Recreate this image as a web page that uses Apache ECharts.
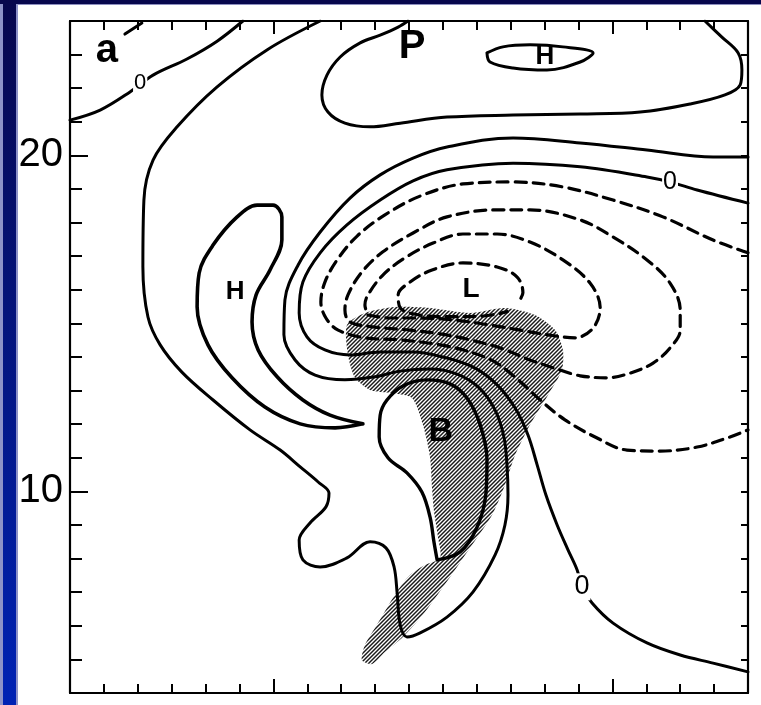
<!DOCTYPE html>
<html><head><meta charset="utf-8">
<script src="https://cdn.jsdelivr.net/npm/echarts@6/dist/echarts.min.js"></script>
<style>html,body{margin:0;padding:0;background:#fff;}#c{width:761px;height:705px;}</style>
</head><body><div id="c"></div>
<script>
// ---- axis ----
const axisMin = 4, axisMax = 24;
const yTickLabels = [10, 20];
const majorTicks = [10, 20];

// ---- solid contours (x, y in axis units) ----
const contourTopLeft0 = [[4.00,21.05],[4.89,21.35],[5.77,21.89],[6.45,22.39],[7.45,22.87],[8.34,23.40],[9.10,24.00]];
const dashTopLeft = [[5.62,23.61],[6.12,23.94]];
const contourP = [[13.97,24.00],[13.68,23.82],[13.15,23.58],[12.56,23.35],[11.97,22.93],[11.58,22.39],[11.43,21.80],[11.61,21.29],[12.11,20.96],[12.85,20.85],[13.74,20.96],[15.12,21.14],[17.07,21.20],[19.05,21.23],[20.82,21.29],[22.29,21.53],[23.32,21.80],[23.77,22.10],[23.82,22.54],[23.71,23.05],[23.23,23.52],[22.73,24.00]];
const contourHighTop = [[16.30,23.05],[16.77,23.23],[17.57,23.29],[18.54,23.23],[19.43,23.05],[19.05,22.78],[18.07,22.54],[17.07,22.60],[16.39,22.78],[16.30,23.05]];
const contourOuter = [[24.00,19.95],[22.97,19.95],[21.02,20.16],[19.05,20.37],[17.07,20.52],[15.12,20.25],[14.12,19.92],[13.15,19.42],[12.26,18.73],[11.38,17.72],[10.73,16.74],[10.34,15.70],[10.31,14.66],[10.64,13.91],[11.23,13.46],[12.11,13.32],[13.00,13.41],[13.74,13.58],[14.62,13.64],[15.42,13.49],[16.07,13.08],[16.54,12.42],[16.80,11.62],[16.89,10.79],[16.92,9.89],[16.83,9.00],[16.54,8.11],[15.89,7.01],[15.12,6.26],[14.33,5.79],[13.94,5.67],[13.74,6.03],[13.65,6.98],[13.56,7.75],[13.32,8.32],[12.85,8.50],[12.17,8.02],[11.38,7.75],[10.87,7.96],[10.76,8.55],[11.08,9.06],[11.55,9.54],[11.64,9.95],[11.32,10.28],[10.79,10.73],[10.20,11.23],[9.31,11.83],[8.22,12.72],[7.30,13.55],[6.66,14.36],[6.30,15.19],[6.15,16.68],[6.18,18.67],[6.45,19.86],[7.16,20.85],[8.34,22.04],[9.81,23.14],[11.38,24.00]];
const contourZero = [[24.00,18.58],[22.50,18.97],[21.70,19.21],[21.02,19.36],[19.05,19.66],[17.07,19.77],[15.12,19.57],[14.12,19.24],[13.15,18.67],[12.17,17.93],[11.38,17.10],[10.87,16.23],[10.76,15.31],[10.99,14.60],[11.52,14.21],[12.26,14.06],[13.15,14.15],[14.12,14.15],[15.12,13.97],[15.95,13.67],[16.60,13.17],[17.13,12.48],[17.51,11.68],[17.78,10.79],[18.04,9.89],[18.37,9.00],[18.69,8.26],[18.96,7.66],[19.10,7.16],[19.40,6.68],[20.02,6.08],[21.02,5.49],[22.00,5.13],[22.97,4.89],[24.00,4.63]];
const contourHighLeft = [[12.64,12.01],[11.82,11.89],[10.79,12.01],[9.75,12.51],[8.78,13.38],[8.07,14.36],[7.75,15.49],[7.81,16.50],[8.22,17.33],[8.93,18.17],[9.52,18.52],[9.99,18.52],[10.25,18.17],[10.25,17.48],[9.90,16.59],[9.49,15.85],[9.37,15.04],[9.55,14.21],[10.11,13.41],[10.87,12.72],[11.67,12.27],[12.64,12.01]];
const contourB = [[14.83,7.96],[15.51,8.20],[16.01,8.94],[16.27,9.95],[16.30,10.94],[16.10,11.98],[15.71,12.78],[15.21,13.20],[14.53,13.32],[13.82,13.14],[13.35,12.72],[13.15,12.27],[13.12,11.62],[13.38,11.00],[13.94,10.55],[14.38,9.98],[14.62,9.24],[14.74,8.47],[14.83,7.96]];

// ---- dashed (negative) contours ----
const dashed1 = [[24.00,17.10],[22.97,17.48],[21.49,18.17],[20.02,18.67],[18.54,19.06],[17.07,19.21],[15.59,19.15],[14.33,18.79],[13.29,18.23],[12.47,17.60],[11.88,16.89],[11.52,16.23],[11.40,15.64],[11.55,15.16],[11.91,14.80],[12.70,14.57],[13.74,14.51],[14.92,14.36],[15.80,14.15],[16.54,13.85],[17.22,13.32],[17.87,12.72],[18.60,12.13],[19.49,11.62],[20.43,11.23],[21.41,11.20],[22.50,11.32],[23.47,11.62],[24.00,11.83]];
const dashed2 = [[18.46,13.61],[19.05,13.44],[19.84,13.38],[20.52,13.52],[21.20,13.82],[21.70,14.27],[22.00,14.80],[22.00,15.40],[21.70,16.20],[21.02,16.89],[20.02,17.57],[19.05,18.08],[17.57,18.38],[16.60,18.38],[15.12,18.17],[14.12,17.69],[13.23,17.13],[12.61,16.53],[12.20,15.85],[12.11,15.40],[12.26,15.04],[13.00,14.89],[14.03,14.80],[14.92,14.69],[15.80,14.51],[16.69,14.27],[17.57,13.91],[18.46,13.61]];
const dashed3 = [[12.79,15.25],[13.44,15.16],[14.33,15.16],[15.36,15.10],[16.39,14.95],[17.28,14.80],[18.10,14.66],[18.90,14.57],[19.43,14.86],[19.64,15.46],[19.34,16.20],[18.54,16.89],[17.57,17.42],[16.60,17.66],[15.59,17.66],[14.71,17.39],[13.88,16.95],[13.23,16.44],[12.79,15.85],[12.70,15.55],[12.79,15.25]];
const dashed4 = [[17.30,15.75],[17.36,15.91],[17.19,16.38],[16.60,16.68],[15.59,16.80],[14.68,16.59],[14.03,16.23],[13.68,15.85],[13.75,15.45],[14.30,15.25],[15.20,15.20],[16.20,15.22],[16.90,15.35]];

// ---- hatched area outline ----
const hatchOutline = [[12.17,14.95],[12.70,15.31],[13.59,15.49],[14.62,15.46],[15.80,15.31],[16.83,15.46],[17.72,15.25],[18.31,14.80],[18.54,14.21],[18.51,13.61],[18.10,12.87],[17.57,11.98],[17.13,11.08],[16.83,10.19],[16.45,9.30],[15.80,8.32],[15.15,7.36],[14.47,6.41],[13.82,5.67],[13.29,5.22],[12.91,4.86],[12.61,4.98],[12.70,5.43],[13.00,5.94],[13.35,6.53],[13.68,7.07],[14.03,7.51],[14.47,7.81],[14.92,8.02],[14.86,8.61],[14.74,9.39],[14.68,10.10],[14.62,11.02],[14.41,11.98],[14.09,12.78],[13.50,12.93],[12.85,13.02],[12.41,13.38],[12.20,14.06]];

// ---- labels ----
const letterTexts = ['a', 'P', 'H', 'H', 'L', 'B'];
const letterPos = [[5.09,23.11],[14.09,23.23],[18.01,22.93],[8.87,15.94],[15.83,16.02],[14.94,11.77]];
const zeroTexts = ['0', '0', '0'];
const zeroPos = [[6.07,22.15],[21.70,19.21],[19.10,7.16]];

const letterSizes = [40, 40, 26, 26, 28, 34];
const zeroSizes = [22, 25, 27];
const narrow = "'Liberation Sans Narrow','Liberation Sans',Arial,sans-serif";

function hatchPattern() {
  const s = 4;
  const c = document.createElement('canvas');
  c.width = s; c.height = s;
  const g = c.getContext('2d');
  g.strokeStyle = '#1a1a1a';
  g.lineWidth = 1.45;
  g.beginPath();
  g.moveTo(0, s); g.lineTo(s, 0);
  g.moveTo(-1, 1); g.lineTo(1, -1);
  g.moveTo(s - 1, s + 1); g.lineTo(s + 1, s - 1);
  g.stroke();
  return c;
}
const pattern = hatchPattern();

function lineSeries(data, width, dashed) {
  return {
    type: 'line', data: data, xAxisIndex: 0, yAxisIndex: 0,
    showSymbol: false, symbol: 'none', smooth: 0.35, silent: true, animation: false,
    z: 3,
    lineStyle: { color: '#000', width: width, type: dashed ? [11, 7] : 'solid', cap: 'round', join: 'round' }
  };
}

const axisCommon = {
  type: 'value', min: axisMin, max: axisMax, interval: 1,
  splitLine: { show: false },
  axisLabel: { show: false },
  axisLine: { show: true, onZero: false, lineStyle: { color: '#000', width: 2.2 } },
  axisTick: { show: true, inside: true, length: 9, lineStyle: { color: '#000', width: 2 } }
};
function longTickAxis(pos, len) {
  return {
    type: 'value', min: axisMin, max: axisMax, interval: 1, position: pos,
    splitLine: { show: false }, axisLabel: { show: false },
    axisLine: { show: false, onZero: false },
    axisTick: { show: true, inside: true, length: len, customValues: majorTicks, lineStyle: { color: '#000', width: 2 } }
  };
}

const series = [];
series.push({
  type: 'custom', coordinateSystem: 'cartesian2d', xAxisIndex: 0, yAxisIndex: 0,
  data: [[14, 14]], silent: true, animation: false, z: 1,
  renderItem: function (params, api) {
    const pts = hatchOutline.map(function (p) { return api.coord(p); });
    return { type: 'polygon', shape: { points: pts, smooth: 0.25 }, style: { fill: { image: pattern, repeat: 'repeat' }, stroke: null } };
  }
});
series.push(lineSeries(contourTopLeft0, 3));
series.push(lineSeries(dashTopLeft, 3));
series.push(lineSeries(contourP, 3));
series.push(lineSeries(contourHighTop, 3));
series.push(lineSeries(contourOuter, 3));
series.push(lineSeries(contourZero, 3));
series.push(lineSeries(contourHighLeft, 3.6));
series.push(lineSeries(contourB, 3.4));
series.push(lineSeries(dashed1, 3.2, true));
series.push(lineSeries(dashed2, 3.2, true));
series.push(lineSeries(dashed3, 3.2, true));
series.push(lineSeries(dashed4, 3.2, true));

series.push({
  type: 'scatter', xAxisIndex: 0, yAxisIndex: 0, symbolSize: 1, itemStyle: { color: 'rgba(0,0,0,0)' },
  silent: true, animation: false, z: 5,
  data: letterPos.map(function (p, i) {
    return { value: p, name: letterTexts[i], label: { fontSize: letterSizes[i] } };
  }),
  label: { show: true, opacity: 1, position: 'inside', formatter: '{b}', color: '#000', fontWeight: 'bold', fontFamily: narrow }
});
series.push({
  type: 'scatter', xAxisIndex: 0, yAxisIndex: 0, symbolSize: 1, itemStyle: { color: 'rgba(0,0,0,0)' },
  silent: true, animation: false, z: 6,
  data: zeroPos.map(function (p, i) { return { value: p, name: zeroTexts[i], label: { fontSize: zeroSizes[i] } }; }),
  label: { show: true, opacity: 1, position: 'inside', formatter: '{b}', color: '#000', fontFamily: narrow,
           backgroundColor: '#fff', padding: [0, 1] }
});

const chart = echarts.init(document.getElementById('c'), null, { renderer: 'canvas' });
chart.setOption({
  animation: false,
  backgroundColor: '#fff',
  grid: { left: 70, right: 13, top: 21, bottom: 12, containLabel: false },
  xAxis: [
    Object.assign({}, axisCommon, { position: 'bottom' }),
    Object.assign({}, axisCommon, { position: 'top' }),
    longTickAxis('bottom', 14),
    longTickAxis('top', 13)
  ],
  yAxis: [
    Object.assign({}, axisCommon, {
      position: 'left',
      axisTick: { show: true, inside: true, length: 12, lineStyle: { color: '#000', width: 2 } },
      axisLabel: { show: true, customValues: yTickLabels, margin: 7, fontSize: 40, color: '#000', fontFamily: narrow,
                   formatter: function (v) { return yTickLabels.indexOf(v) >= 0 ? String(v) : ''; } }
    }),
    Object.assign({}, axisCommon, { position: 'right',
      axisTick: { show: true, inside: true, length: 7, lineStyle: { color: '#000', width: 2 } } }),
    longTickAxis('left', 18)
  ],
  graphic: [
    { type: 'rect', z: 100, silent: true, shape: { x: 0, y: 0, width: 761, height: 5 }, style: { fill: '#8d8fc0' } },
    { type: 'rect', z: 101, silent: true, shape: { x: 0, y: 0, width: 761, height: 4 }, style: { fill: '#07074d' } },
    { type: 'rect', z: 100, silent: true, shape: { x: 0, y: 0, width: 18, height: 705 }, style: { fill: '#8d92c8' } },
    { type: 'rect', z: 101, silent: true, shape: { x: 3, y: 0, width: 13, height: 705 },
      style: { fill: new echarts.graphic.LinearGradient(0, 0, 0, 1, [{ offset: 0, color: '#07074d' }, { offset: 1, color: '#0022b4' }]) } }
  ],
  series: series
});
</script>
</body></html>
